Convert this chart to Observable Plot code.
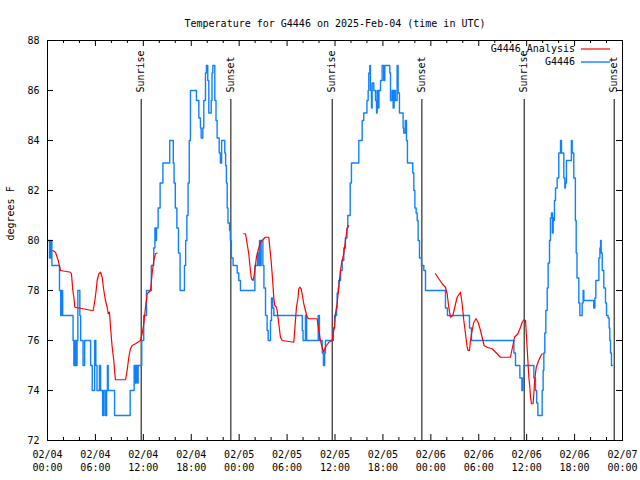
<!DOCTYPE html>
<html><head><meta charset="utf-8">
<script src="https://cdn.jsdelivr.net/npm/d3@7"></script>
<script src="https://cdn.jsdelivr.net/npm/@observablehq/plot@0.6"></script>
<style>body{margin:0;background:#fff}</style>
</head><body><div id="chart"></div>
<script>
const title = "Temperature for G4446 on 2025-Feb-04 (time in UTC)";
const yLabel = "degrees F";
const seriesNames = ["G4446_Analysis", "G4446"];
const seriesColors = ["#ff0000", "#1080ff"];
const xTickHours = [0, 6, 12, 18, 24, 30, 36, 42, 48, 54, 60, 66, 72];
const xTickLabels = ["02/04\n00:00","02/04\n06:00","02/04\n12:00","02/04\n18:00","02/05\n00:00","02/05\n06:00","02/05\n12:00","02/05\n18:00","02/06\n00:00","02/06\n06:00","02/06\n12:00","02/06\n18:00","02/07\n00:00"];
const xMinorHours = [2,4,8,10,14,16,20,22,26,28,32,34,38,40,44,46,50,52,56,58,62,64,68,70];
const yTicks = [72, 74, 76, 78, 80, 82, 84, 86, 88];
const sunHours = [11.73, 22.96, 35.65, 46.88, 59.69, 70.96];
const sunLabels = ["Sunrise", "Sunset", "Sunrise", "Sunset", "Sunrise", "Sunset"];

// Observed G4446 (hour since 02/04 00:00 UTC, degrees F), value changes
const obsHours = [0.0,0.25,0.4,0.55,1.5,1.65,1.75,1.9,3.2,3.3,3.45,3.55,3.7,3.8,4.05,4.15,4.45,4.65,5.4,5.6,5.9,6.05,6.2,6.5,6.65,6.9,7.05,7.25,7.4,7.5,7.6,8.4,10.35,10.85,11.0,11.1,11.25,11.35,11.8,12.05,12.4,13.0,13.3,13.45,13.55,13.65,13.85,14.1,14.45,15.3,15.75,15.85,16.0,16.2,16.4,16.6,17.15,17.3,17.45,17.6,17.75,17.9,18.65,18.95,19.15,19.24,19.45,19.57,19.78,19.9,20.07,20.2,20.5,20.6,20.7,20.95,21.1,21.24,21.5,21.65,21.8,22.2,22.3,22.4,22.5,22.6,22.8,22.9,23.03,23.24,23.75,23.95,24.16,25.97,26.3,26.45,26.55,26.65,26.75,26.97,27.1,27.3,27.5,27.63,27.92,28.05,28.2,28.34,31.9,32.0,32.3,32.45,33.9,34.05,34.4,34.55,34.7,34.8,35.8,35.95,36.2,36.27,36.4,36.48,36.7,36.9,37.1,37.3,37.5,37.6,37.9,38.06,38.98,39.4,39.6,40.0,40.15,40.23,40.36,40.44,40.57,40.65,40.86,41.07,41.2,41.28,41.4,41.5,41.7,41.9,42.1,42.24,42.86,42.95,43.15,43.28,43.4,43.57,43.78,43.9,44.07,44.53,44.6,44.8,44.95,45.07,45.74,45.87,46.0,46.16,46.29,46.41,46.58,46.83,47.12,47.33,49.83,50.08,52.84,53.09,58.4,58.6,59.15,59.4,59.55,59.65,60.9,61.1,61.25,61.4,61.94,62.06,62.15,62.27,62.4,62.57,62.69,62.86,62.98,63.1,63.23,63.32,63.4,63.48,63.61,63.82,64.02,64.24,64.36,64.65,64.78,64.86,64.98,65.6,65.7,65.9,66.1,66.2,66.3,66.53,66.66,66.82,66.95,67.07,67.16,68.4,68.54,68.66,69.04,69.17,69.25,69.33,69.46,69.66,69.87,70.0,70.2,70.33,70.41,70.5,70.62,70.75,70.92,71.12,71.33,71.54,71.67,72.0];
const obsTemps = [80,79.3,80,79,78,77,78,77,76,75,76,75,76,78,77,76,75,76,75,74,76,75,74,75,74,73,74,73,74,75,74,73,74,75,74.3,75,74.3,75,76,77,78,79,79.7,80.5,80,80.5,81.3,82.3,83.1,84,83.1,82.3,81.3,80.5,79.5,78,79,80,81,82.3,84,86,85.6,84.9,84.5,84.1,84.5,85.6,86.7,87,86.4,85.1,85.6,86.7,87,85.6,84.8,84.1,83.5,83.1,84,83.5,83,82.3,81.3,80.7,80.4,80,79.3,79,78.7,78.4,78,79,79.5,79,80,79,80,79,78.1,77,76.4,76,76.8,77.7,77.3,77,76.4,76,77,76,77,76,75.5,75,75.5,76,76.5,77,77.3,77.9,78.1,78.4,78.8,79.2,79.7,80.1,80.5,81,82.3,83.1,84,84.8,85.1,85.6,86,86.7,87,86,85.3,86.3,86,85.6,85.1,86,85.3,86,86.4,87,86.4,87,86.7,85.6,86,85.3,86,85.6,87,85.9,85.1,84.5,84.3,84.8,84,83.1,82.7,82,81.3,81.1,80.8,80,79.3,79,78.8,78,77.3,77,76.5,76,75.5,75,74.5,74,74.5,75,74.5,74,73.5,73,74,74.8,75.5,76.3,77.2,78.1,79.1,80,80.9,81.1,80.3,80.9,80.8,81.6,82.1,82.5,83.5,84,83.5,82.5,82.1,82.3,83.2,84,83.5,82.5,80.8,79.5,78.5,77.5,77,77,77.5,78,77.6,77.3,77.7,78.4,79.3,79.7,80,79.5,78.8,78.1,77.5,77,76.9,76.5,76,75.5,75,75];

// Analysis G4446_Analysis, three separate runs
const anaHours1 = [0.67,1.0,1.34,1.63,2.88,3.0,3.17,3.3,3.42,5.59,5.72,5.93,6.09,6.22,6.43,6.64,6.84,7.05,7.26,7.47,7.6,7.76,7.89,8.1,8.3,8.43,8.51,9.77,9.97,10.18,10.39,10.6,11.02,11.64,11.85,12.06,12.27,12.48,12.9,13.1,13.31,13.52,13.73];
const anaTemps1 = [79.6,79.53,79.2,78.8,78.73,78.67,78.0,77.73,77.33,77.2,77.2,77.6,78.0,78.4,78.67,78.73,78.53,78.0,77.6,77.33,77.07,77.13,76.53,75.73,75.2,74.67,74.43,74.43,74.8,75.33,75.67,75.8,75.87,76.0,76.27,76.67,77.33,77.87,78.0,78.67,79.2,79.47,79.5];
const anaHours2 = [24.58,24.79,25.0,25.2,25.41,25.54,25.75,25.91,26.16,26.37,26.66,27.08,27.29,27.71,27.83,28.0,28.13,28.25,28.33,28.46,28.67,28.75,28.96,29.17,29.38,30.84,30.92,31.05,31.17,31.38,31.46,31.59,31.76,31.88,32.09,32.3,32.51,32.72,33.76,33.97,34.18,34.39,34.59,34.8,35.22,35.64,35.76,35.93,36.06,36.26,36.47,36.68,36.89,37.1,37.31,37.52,37.65,37.73];
const anaTemps2 = [80.27,80.27,79.87,79.47,78.8,78.47,78.4,78.67,79.33,79.6,79.93,80.07,80.13,80.13,79.73,79.2,78.67,78.13,77.73,77.4,77.33,77.2,76.67,76.13,76.0,75.93,76.27,76.8,77.33,77.73,78.07,78.13,78.07,77.87,77.47,77.2,76.93,76.87,76.87,76.4,76.0,75.73,75.53,75.73,75.93,76.0,76.27,76.53,77.07,77.47,78.13,78.8,79.2,79.47,80.0,80.47,80.56,80.6];
const anaHours3 = [48.58,49.0,49.42,49.83,50.04,50.25,50.46,50.75,51.0,51.29,51.71,51.92,52.13,52.34,52.55,52.67,52.84,52.96,53.17,53.38,53.67,53.92,54.22,54.42,54.67,55.04,55.67,56.3,56.71,57.96,58.3,58.48,58.9,59.23,59.44,59.65,59.86,59.98,60.15,60.27,60.4,60.48,60.6,60.8,60.9,61.0,61.2,61.5,61.8,61.94];
const anaTemps3 = [78.67,78.47,78.27,78.13,77.87,77.33,76.93,77.0,77.33,77.73,77.93,77.47,76.8,76.27,75.73,75.6,75.6,76.0,76.4,76.73,76.87,76.73,76.4,76.13,75.8,75.73,75.67,75.47,75.33,75.33,75.84,76.13,76.27,76.53,76.73,76.83,76.8,76.13,75.2,74.53,74.13,73.73,73.47,73.47,73.87,74.4,74.93,75.2,75.4,75.47];

const obs = obsHours.map((h, i) => ({h, v: obsTemps[i]}));
const ana = [[anaHours1, anaTemps1], [anaHours2, anaTemps2], [anaHours3, anaTemps3]]
  .flatMap(([hs, ts], s) => hs.map((h, i) => ({h, v: ts[i], s})));
const sun = sunHours.map((h, i) => ({h, label: sunLabels[i]}));

const W = 640, H = 480, mL = 47, mR = 18, mT = 40, mB = 40;
const pw = W - mL - mR, ph = H - mT - mB;
const font = "'DejaVu Sans Mono', monospace";

const chart = Plot.plot({
  width: W, height: H,
  marginLeft: mL, marginRight: mR, marginTop: mT, marginBottom: mB,
  style: {fontFamily: font, fontSize: "10px", background: "#fff", color: "#000", overflow: "visible"},
  x: {domain: [0, 72]},
  y: {domain: [72, 88]},
  marks: [
    Plot.ruleX(sun, {x: "h", insetTop: 59, stroke: "#000", strokeWidth: 1}),
    Plot.text(sun, {x: "h", text: "label", frameAnchor: "top", rotate: -90, textAnchor: "start", lineAnchor: "middle", dy: 52, fill: "#000"}),
    Plot.line(obs, {x: "h", y: "v", curve: "step-after", stroke: seriesColors[1], strokeWidth: 1.4}),
    Plot.line(ana, {x: "h", y: "v", z: "s", stroke: seriesColors[0], strokeWidth: 1.2}),
    Plot.ruleX(xTickHours, {x: d => d, insetTop: ph - 6, stroke: "#000"}),
    Plot.ruleX(xTickHours, {x: d => d, insetBottom: ph - 6, stroke: "#000"}),
    Plot.ruleX(xMinorHours, {x: d => d, insetTop: ph - 3, stroke: "#000"}),
    Plot.ruleX(xMinorHours, {x: d => d, insetBottom: ph - 3, stroke: "#000"}),
    Plot.ruleY(yTicks, {y: d => d, insetRight: pw - 6, stroke: "#000"}),
    Plot.ruleY(yTicks, {y: d => d, insetLeft: pw - 6, stroke: "#000"}),
    Plot.frame({stroke: "#000", strokeWidth: 1}),
    Plot.axisX({ticks: xTickHours, tickFormat: (d) => xTickLabels[xTickHours.indexOf(d)], tickSize: 0, tickPadding: 8, lineHeight: 1.3, label: null}),
    Plot.axisY({ticks: yTicks, tickSize: 0, tickPadding: 8, label: null}),
    Plot.text([yLabel], {frameAnchor: "left", rotate: -90, dx: -37, text: d => d}),
    Plot.text([title], {frameAnchor: "top", dy: -21, text: d => d})
  ]
});
document.getElementById("chart").append(chart);

// Legend (top right inside the frame)
const svg = d3.select(chart.tagName.toLowerCase() === "svg" ? chart : chart.querySelector("svg"));
const lg = svg.append("g").attr("font-family", font).attr("font-size", 10);
seriesNames.forEach((name, i) => {
  const yy = 49 + i * 13;
  lg.append("text").attr("x", 575).attr("y", yy).attr("dy", "0.32em").attr("text-anchor", "end").attr("fill", "#000").text(name);
  lg.append("line").attr("x1", 581).attr("x2", 610).attr("y1", yy).attr("y2", yy)
    .attr("stroke", seriesColors[i]).attr("stroke-width", i === 1 ? 1.4 : 1.2);
});
</script>
</body></html>
